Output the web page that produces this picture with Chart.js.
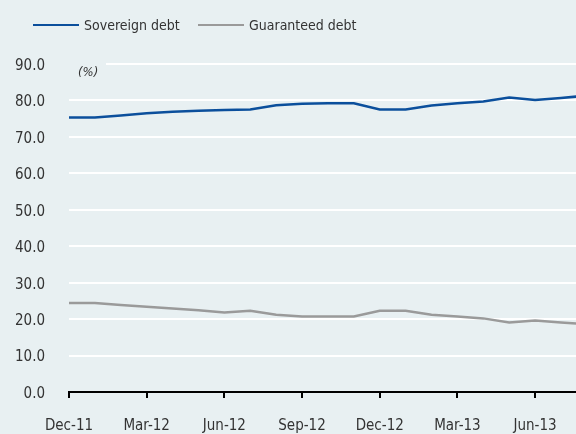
<!DOCTYPE html>
<html>
<head>
<meta charset="utf-8">
<title>Sovereign and guaranteed debt</title>
<script src="https://cdn.jsdelivr.net/npm/chart.js@4"></script>
<style>
    html, body { margin: 0; padding: 0; background: #e8f0f2; overflow: hidden; }
    #wrap { width: 576px; height: 434px; position: relative; }
</style>
</head>
<body>
<div id="wrap"><canvas id="debtChart"></canvas></div>
<script>
// months from Dec-11 to Aug-13 (last one runs past the right edge)
const months = ['Dec-11', 'Jan-12', 'Feb-12', 'Mar-12', 'Apr-12', 'May-12', 'Jun-12', 'Jul-12', 'Aug-12', 'Sep-12', 'Oct-12',
    'Nov-12', 'Dec-12', 'Jan-13', 'Feb-13', 'Mar-13', 'Apr-13', 'May-13', 'Jun-13', 'Jul-13', 'Aug-13'];
const sovereignDebt = [75.3, 75.3, 75.9, 76.5, 76.9, 77.2, 77.4, 77.5, 78.7, 79.1, 79.2,
    79.2, 77.5, 77.5, 78.6, 79.2, 79.7, 80.8, 80.1, 80.7, 81.3];
const guaranteedDebt = [24.4, 24.4, 23.9, 23.4, 22.9, 22.4, 21.8, 22.3, 21.2, 20.7, 20.7,
    20.7, 22.3, 22.3, 21.2, 20.7, 20.2, 19.1, 19.6, 19.1, 18.6];
const tickLabels = ['Dec-11', 'Mar-12', 'Jun-12', 'Sep-12', 'Dec-12', 'Mar-13', 'Jun-13'];
const yTicks = [0, 10, 20, 30, 40, 50, 60, 70, 80, 90];

const FONT = "'DejaVu Sans Condensed', 'Liberation Sans Narrow', 'Liberation Sans', sans-serif";
const BG = '#e8f0f2';
const BLUE = '#0b4f9c';
const GREY = '#9a9a9a';

document.addEventListener('DOMContentLoaded', () => {
    const toPoints = arr => arr.map((v, i) => ({ x: i, y: v }));

    // legend + "(%)" label drawn by hand
    const decorations = {
        id: 'decorations',
        beforeDatasetsDraw(chart) {
            const { ctx, chartArea, scales } = chart;
            const yTop = scales.y.getPixelForValue(90);
            ctx.save();
            ctx.fillStyle = BG;
            ctx.fillRect(chartArea.left, yTop - 3, 37, 6);
            ctx.fillStyle = '#333';
            ctx.font = 'italic 13px ' + FONT;
            ctx.textBaseline = 'middle';
            ctx.fillText('(%)', chartArea.left + 9, yTop + 9);
            ctx.restore();
        },
        afterDraw(chart) {
            const ctx = chart.ctx;
            const items = [
                { label: 'Sovereign debt', color: BLUE, x: 33 },
                { label: 'Guaranteed debt', color: GREY, x: 198 }
            ];
            ctx.save();
            ctx.font = '14px ' + FONT;
            ctx.textBaseline = 'middle';
            items.forEach(item => {
                ctx.strokeStyle = item.color;
                ctx.lineWidth = 2;
                ctx.beginPath();
                ctx.moveTo(item.x, 25);
                ctx.lineTo(item.x + 46, 25);
                ctx.stroke();
                ctx.fillStyle = '#333';
                ctx.fillText(item.label, item.x + 51, 26);
            });
            ctx.restore();
        }
    };

    new Chart(document.getElementById('debtChart'), {
        type: 'line',
        data: {
            datasets: [{
                label: 'Sovereign debt',
                data: toPoints(sovereignDebt),
                borderColor: BLUE,
                borderWidth: 2.5,
                pointRadius: 0,
                tension: 0
            }, {
                label: 'Guaranteed debt',
                data: toPoints(guaranteedDebt),
                borderColor: GREY,
                borderWidth: 2.5,
                pointRadius: 0,
                tension: 0
            }]
        },
        options: {
            responsive: true,
            maintainAspectRatio: false,
            animation: false,
            layout: { padding: { top: 64, right: 0, left: 0, bottom: 0 } },
            plugins: { legend: { display: false }, tooltip: { enabled: false } },
            scales: {
                x: {
                    type: 'linear',
                    min: 0,
                    max: 19.58,
                    afterFit: scale => { scale.height = 42; },
                    border: { display: true, color: '#000', width: 2 },
                    grid: { display: true, drawOnChartArea: false, drawTicks: true, tickLength: 6, color: '#000', lineWidth: 2 },
                    ticks: {
                        stepSize: 3,
                        includeBounds: false,
                        autoSkip: false,
                        maxRotation: 0,
                        padding: 19,
                        color: '#333',
                        font: { family: FONT, size: 15 },
                        callback: value => tickLabels[value / 3] || ''
                    }
                },
                y: {
                    min: yTicks[0],
                    max: yTicks[yTicks.length - 1],
                    afterFit: scale => { scale.width = 69; },
                    border: { display: false },
                    grid: {
                        drawTicks: false,
                        lineWidth: 2,
                        color: ctx => ctx.tick && ctx.tick.value === 0 ? 'rgba(0,0,0,0)' : '#ffffff'
                    },
                    ticks: {
                        stepSize: 10,
                        padding: 24,
                        labelOffset: 2,
                        color: '#333',
                        font: { family: FONT, size: 15 },
                        callback: value => value.toFixed(1)
                    }
                }
            }
        },
        plugins: [decorations]
    });
});
</script>
</body>
</html>
